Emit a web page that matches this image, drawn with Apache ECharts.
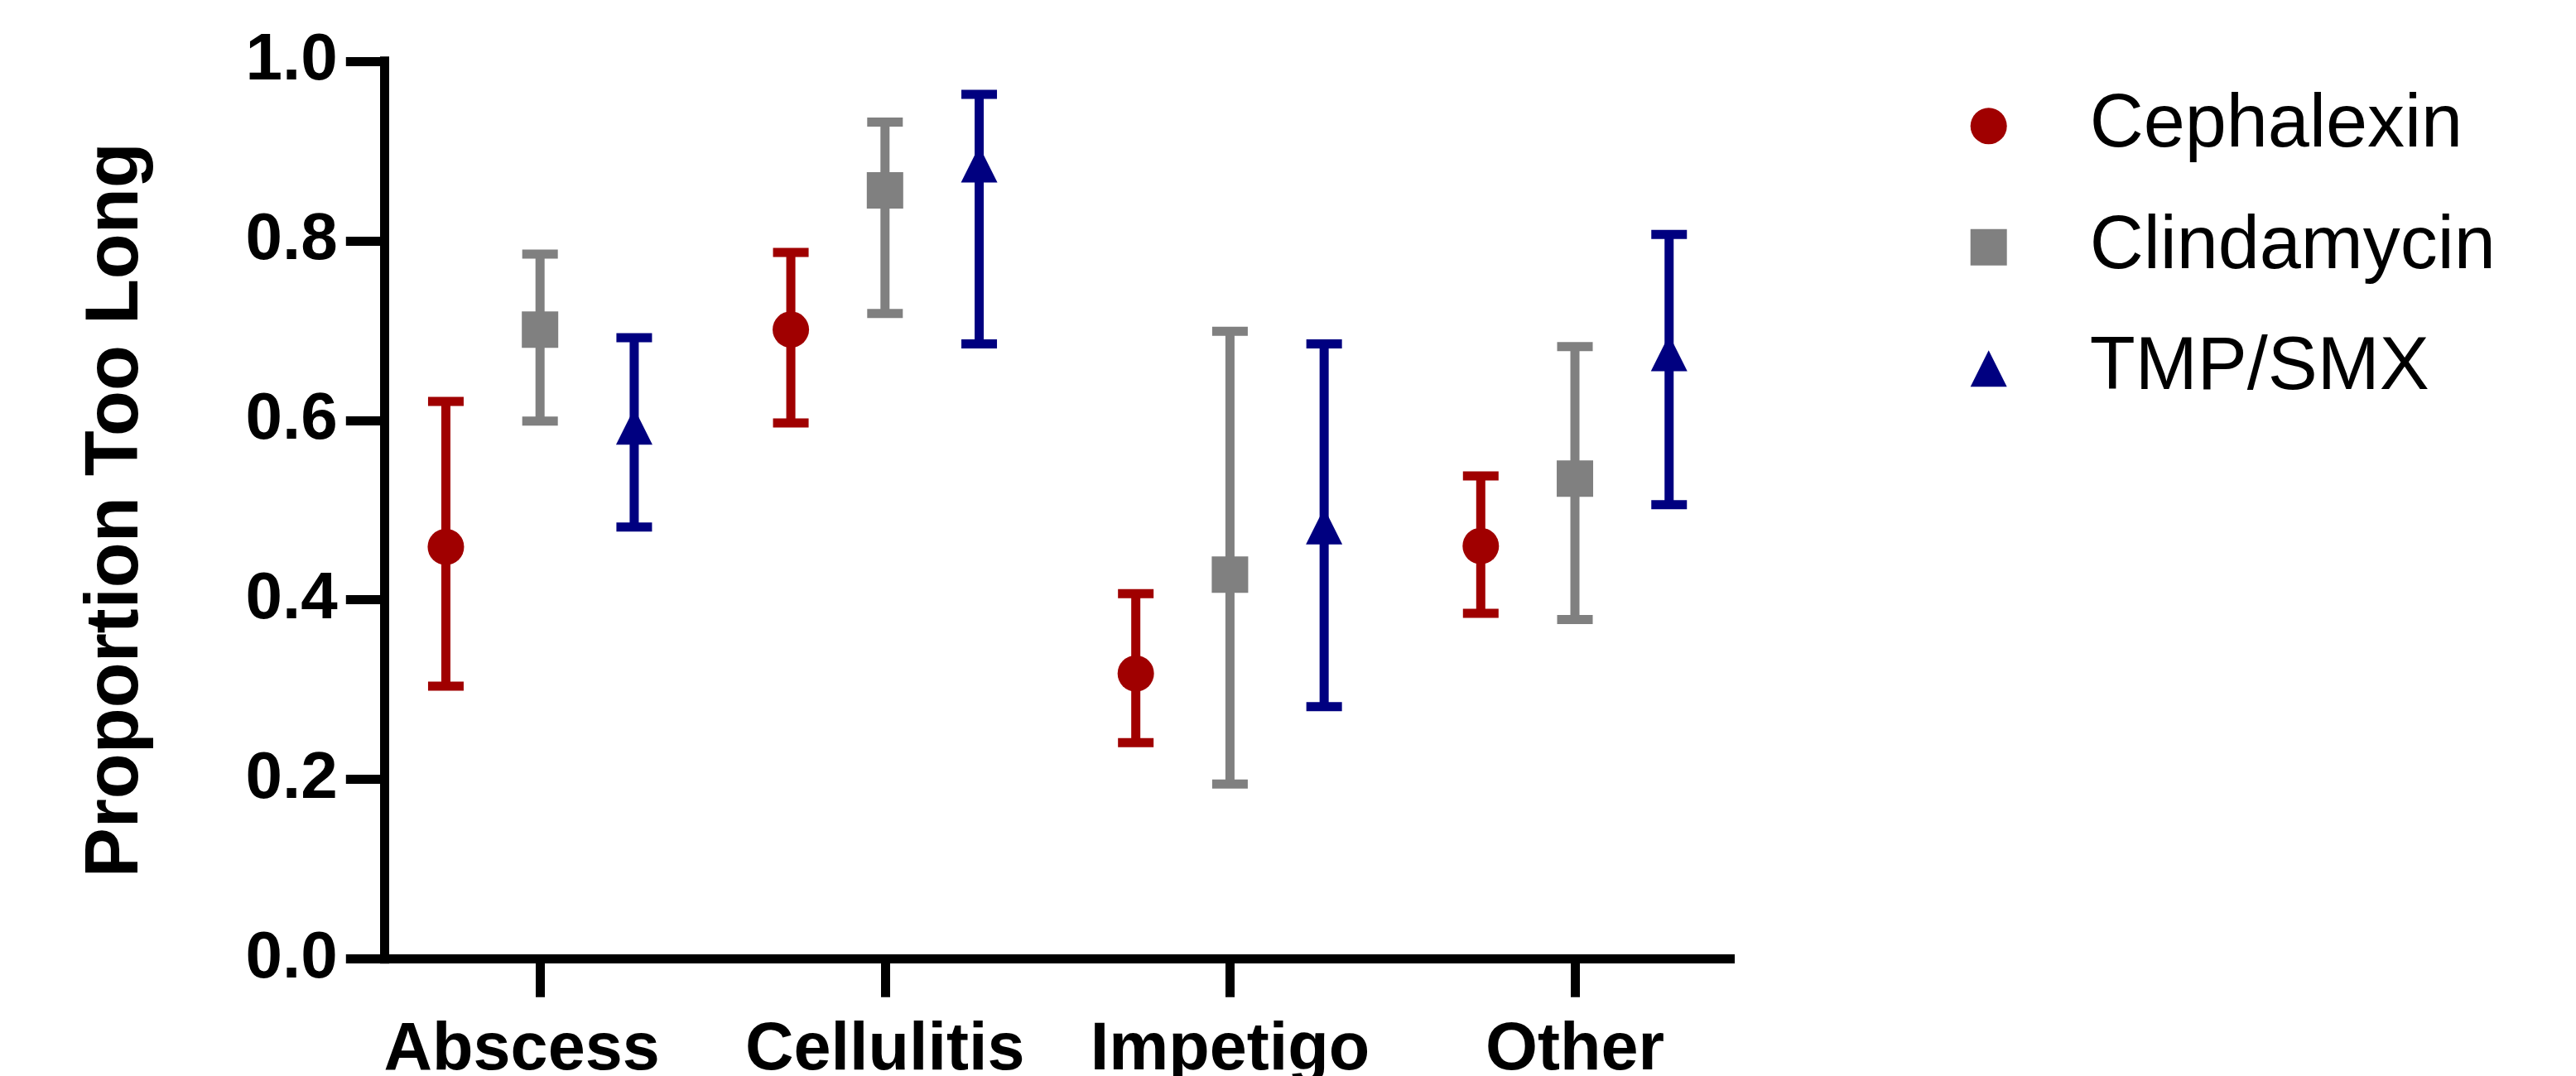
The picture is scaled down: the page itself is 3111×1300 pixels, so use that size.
<!DOCTYPE html>
<html>
<head>
<meta charset="utf-8">
<script src="https://cdn.jsdelivr.net/npm/echarts@6/dist/echarts.min.js"></script>
<style>
  html, body { margin: 0; padding: 0; background: #ffffff; }
  #chart { width: 3111px; height: 1300px; }
</style>
</head>
<body>
<div id="chart"></div>
<script>
// ---- data ----
const categories = ['Abscess', 'Cellulitis', 'Impetigo', 'Other'];
const seriesNames = ['Cephalexin', 'Clindamycin', 'TMP/SMX'];

const cephalexinMean = [0.459, 0.701, 0.318, 0.460];
const cephalexinLow  = [0.304, 0.597, 0.241, 0.385];
const cephalexinHigh = [0.621, 0.787, 0.407, 0.538];

const clindamycinMean = [0.701, 0.856, 0.428, 0.535];
const clindamycinLow  = [0.599, 0.719, 0.195, 0.378];
const clindamycinHigh = [0.785, 0.932, 0.699, 0.682];

const tmpSmxMean = [0.593, 0.885, 0.482, 0.675];
const tmpSmxLow  = [0.481, 0.685, 0.281, 0.506];
const tmpSmxHigh = [0.692, 0.963, 0.685, 0.807];

const yTicks = [0.0, 0.2, 0.4, 0.6, 0.8, 1.0];

// ---- presentation ----
const FONT = "'Liberation Sans', Arial, Helvetica, sans-serif";
const colors = ['#a00000', '#808080', '#000080'];
const symbols = ['circle', 'rect', 'triangle'];
const offsets = [-0.273, 0, 0.273];
const means = [cephalexinMean, clindamycinMean, tmpSmxMean];
const lows = [cephalexinLow, clindamycinLow, tmpSmxLow];
const highs = [cephalexinHigh, clindamycinHigh, tmpSmxHigh];

const chart = echarts.init(document.getElementById('chart'), null, { renderer: 'canvas' });

const scatterSeries = seriesNames.map((name, s) => ({
  name: name,
  type: 'scatter',
  symbol: symbols[s],
  symbolSize: 44,
  z: 5,
  itemStyle: { color: colors[s], opacity: 1 },
  emphasis: { disabled: true },
  data: categories.map((c, i) => [i + offsets[s], means[s][i]])
}));

const errorSeries = seriesNames.map((name, s) => ({
  name: name,
  type: 'custom',
  z: 4,
  silent: true,
  renderItem: function (params, api) {
    const x = api.value(0);
    const top = api.coord([x, api.value(2)]);
    const bot = api.coord([x, api.value(1)]);
    const half = 21.5;
    const style = { stroke: colors[s], lineWidth: 11, lineCap: 'butt', fill: null };
    return {
      type: 'group',
      children: [
        { type: 'line', shape: { x1: top[0], y1: top[1], x2: bot[0], y2: bot[1] }, style: style },
        { type: 'line', shape: { x1: top[0] - half, y1: top[1], x2: top[0] + half, y2: top[1] }, style: style },
        { type: 'line', shape: { x1: bot[0] - half, y1: bot[1], x2: bot[0] + half, y2: bot[1] }, style: style }
      ]
    };
  },
  data: categories.map((c, i) => [i + offsets[s], lows[s][i], highs[s][i]])
}));

const option = {
  animation: false,
  backgroundColor: '#ffffff',
  grid: { left: 463.8, top: 73.8, width: 1625.7, height: 1084.9, containLabel: false, outerBoundsMode: 'none' },
  legend: {
    orient: 'vertical',
    left: 2374.7,
    top: 102.3,
    itemWidth: 44,
    itemHeight: 44,
    itemGap: 56.5,
    selectedMode: false,
    textStyle: { fontFamily: FONT, fontSize: 90, color: '#000', lineHeight: 90, padding: [0, 0, 0, 95] },
    data: seriesNames.map((n, s) => ({ name: n, icon: symbols[s], itemStyle: { color: colors[s] } }))
  },
  xAxis: {
    type: 'value',
    min: -0.4522,
    max: 3.450,
    axisLine: { show: true, onZero: false, lineStyle: { color: '#000', width: 11, cap: 'square' } },
    axisTick: { show: true, length: 46, lineStyle: { color: '#000', width: 11 }, customValues: categories.map((c, i) => i) },
    splitLine: { show: false },
    axisLabel: {
      show: true,
      customValues: categories.map((c, i) => i),
      margin: 70,
      fontFamily: FONT,
      fontSize: 81,
      fontWeight: 'bold',
      color: '#000',
      formatter: function (v) {
        const name = categories[Math.round(v)];
        return Math.round(v) === 0 ? '{first|' + name + '}' : name;
      },
      rich: {
        first: { fontFamily: FONT, fontSize: 81, fontWeight: 'bold', color: '#000', padding: [0, 44, 0, 0] }
      }
    }
  },
  yAxis: {
    type: 'value',
    min: yTicks[0],
    max: yTicks[yTicks.length - 1],
    interval: 0.2,
    name: 'Proportion Too Long',
    nameLocation: 'middle',
    nameGap: 278,
    nameTextStyle: { fontFamily: FONT, fontSize: 90, fontWeight: 'bold', color: '#000' },
    axisLine: { show: true, onZero: false, lineStyle: { color: '#000', width: 11, cap: 'square' } },
    axisTick: { show: true, length: 46, lineStyle: { color: '#000', width: 11 } },
    splitLine: { show: false },
    axisLabel: {
      margin: 56,
      fontFamily: FONT,
      fontSize: 80,
      fontWeight: 'bold',
      color: '#000',
      formatter: function (v) { return v.toFixed(1); }
    }
  },
  series: scatterSeries.concat(errorSeries)
};

chart.setOption(option);
</script>
</body>
</html>
